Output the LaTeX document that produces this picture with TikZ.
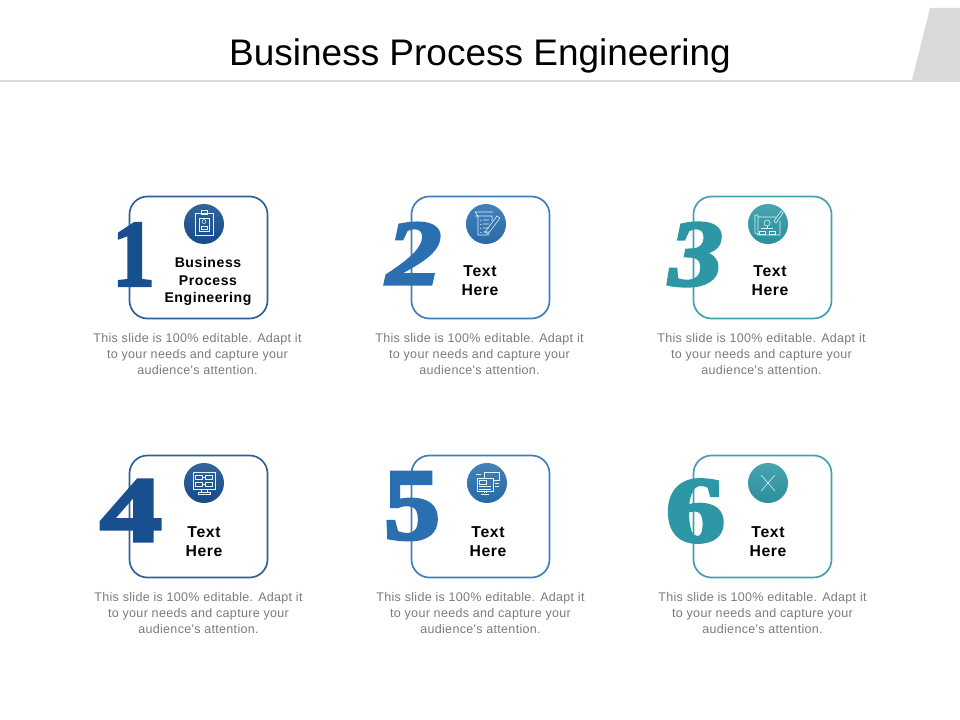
\documentclass[tikz,border=0pt]{standalone}
\usepackage{fontspec}
\setmainfont{Liberation Sans}
\newfontfamily\numfont[BoldFeatures={FakeBold=3.5},BoldItalicFeatures={FakeBold=3.5}]{Liberation Serif}
\newfontfamily\bodyfont[LetterSpace=2.5]{Liberation Sans}
\newfontfamily\labelfont[LetterSpace=4]{Liberation Sans}
\usetikzlibrary{positioning}

\definecolor{navy}{HTML}{174F8F}
\definecolor{midblue}{HTML}{2A70B0}
\definecolor{teal}{HTML}{2E97A5}
\definecolor{barGray}{HTML}{D9D9D9}
\definecolor{bodyGray}{HTML}{7A7A7A}

\tikzset{
	card/.style={draw=#1!90!white,fill=white,line width=1.2pt,rounded corners=0.45cm,minimum width=3.45cm,minimum height=3.05cm,inner sep=0},
	badge/.style={circle,minimum size=1cm,inner sep=0,top color=#1!88!white,bottom color=#1!95!black},
	digit/.style={inner sep=0,text=#1},
	caption/.style={align=center,font=\labelfont\bfseries\fontsize{11.2}{13.5}\selectfont},
	blurb/.style={align=center,text=bodyGray,font=\bodyfont\fontsize{8.9}{11.4}\selectfont},
	glyph/.style={draw=white!88!cyan,line width=0.4pt,fill=none}
}

\begin{document}
\begin{tikzpicture}[x=0.025cm,y=-0.025cm]
	\useasboundingbox (0,0) rectangle (960,720);

	% header
	\fill[barGray] (0,80) rectangle (960,82);
	\fill[barGray] (912,80) -- (930,8) -- (960,8) -- (960,80) -- cycle;
	\node[font=\fontsize{26.3}{30}\selectfont] (Title) at (480,56) {Business Process Engineering};

	% cards, circles and blurbs
	\foreach \cx/\cy/\col/\dx [count=\n] in {198.5/257.5/navy/-1,480.5/257.5/midblue/-1,762.5/257.5/teal/-1,198.5/516.5/navy/0,480.5/516.5/midblue/0,762.5/516.5/teal/0} {
		\node[card=\col] (C\n) at (\cx,\cy) {};
		\node[blurb,below=0.23cm of C\n,xshift=\dx*0.025cm] (B\n) {This slide is 100\% editable. Adapt it\\to your needs and capture your\\audience's attention.};
	}
	\foreach \x/\y/\col [count=\n] in {204/224/navy,486/224/midblue,768/224/teal,204/483/navy,487/483/midblue,768/483/teal}
		\node[badge=\col] (I\n) at (\x,\y) {};

	% numbers
	\node[digit=navy] (N1) at (133.5,254.5) {\resizebox{1.05cm}{1.55cm}{\numfont\bfseries 1}};
	\node[digit=midblue] (N2) at (414,253.5) {\resizebox{1.36cm}{1.52cm}{\numfont\bfseries\itshape 2}};
	\node[digit=teal] (N3) at (696,254.5) {\resizebox{1.34cm}{1.55cm}{\numfont\bfseries\itshape 3}};
	\node[digit=navy] (N4) at (131,510.5) {\resizebox{1.54cm}{1.52cm}{\numfont\bfseries 4}};
	\node[digit=midblue] (N5) at (412,506) {\resizebox{1.4cm}{1.66cm}{\numfont\bfseries 5}};
	\node[digit=teal] (N6) at (695.5,511) {\resizebox{1.48cm}{1.54cm}{\numfont\bfseries 6}};

	% captions
	\node[caption,font=\labelfont\bfseries\fontsize{10}{12.4}\selectfont] (L1) at (208,281.5) {Business\\Process\\Engineering};
	\foreach \x/\y [count=\n from 2] in {480/281,770/281,204/542,488/542,768/542}
		\node[caption] (L\n) at (\x,\y) {Text\\Here};

	% badge on a clip
	\begin{scope}[shift={(I1.center)},glyph]
		\draw (-9,-11) rectangle (9,11);
		\draw (-3,-14) rectangle (3,-10);
		\draw (-5,-6) rectangle (5,7);
		\draw (0,-2.5) circle (2);
		\draw (-3,5) -- (-3,2.5) -- (3,2.5) -- (3,5) -- cycle;
	\end{scope}
	% checklist and pen
	\begin{scope}[shift={(I2.center)},glyph]
		\draw (-11,-12) -- (7,-12) (-11,-12) -- (-8,-8) -- (-8,11) -- (3,11) (6,-8) -- (6,-3) (-11,-8) -- (6,-8);
		\foreach \y in {-4,0,4,8}
			\draw (-6,\y) -- (-4.5,\y+1) (-3,\y) -- (3,\y);
		\draw (-1,8) -- (11,-8) -- (14,-6) -- (2,10) -- cycle;
	\end{scope}
	% blueprint
	\begin{scope}[shift={(I3.center)},glyph]
		\draw (-10,-7) -- (8,-7) (-10,11) -- (12,11) -- (12,-3) (-13,-9) -- (-13,9) (-10,-9) -- (-10,11) (-13,-9) -- (-10,-9) (-13,9) -- (-10,11);
		\draw (-1,-1) circle (3);
		\draw (-1,2) -- (-1,4) (-7,4) -- (5,4) (-9,7) rectangle (-3,10) (1,7) rectangle (7,10);
		\draw (6,-3) -- (13,-13) -- (15,-11) -- (8,-1) -- cycle;
	\end{scope}
	% monitor with a flow chart
	\begin{scope}[shift={(I4.center)},glyph]
		\draw (-11,-11) rectangle (11,6);
		\draw (-9,-8) rectangle (-2,-4) (1,-8) rectangle (8,-4) (-9,-1) rectangle (-2,3) (1,-1) rectangle (8,3);
		\draw (-2,-6) -- (1,-6) (-2,1) -- (1,1);
		\draw (-3,6) -- (-3,9) (3,6) -- (3,9) (-6,9) rectangle (6,11);
	\end{scope}
	% monitor and windows
	\begin{scope}[shift={(I5.center)},glyph]
		\draw (-10,-5) rectangle (6,8);
		\draw (-8,-3) rectangle (-1,1) (-8,3.5) -- (4,3.5) (-8,6) -- (4,6);
		\draw (-3,8) -- (-3,10) (-1,8) -- (-1,10) (-6,11) -- (2,11);
		\draw (-3,-5) -- (-3,-11) -- (12,-11) -- (12,-3) -- (6,-3);
		\draw (8,0) -- (12,0) (8,3) -- (12,3) (-11,-9) -- (-6,-9);
	\end{scope}
	% cross
	\begin{scope}[shift={(I6.center)},glyph]
		\draw (-7,-8) -- (7,8) (7,-8) -- (-7,8);
	\end{scope}
\end{tikzpicture}
\end{document}
